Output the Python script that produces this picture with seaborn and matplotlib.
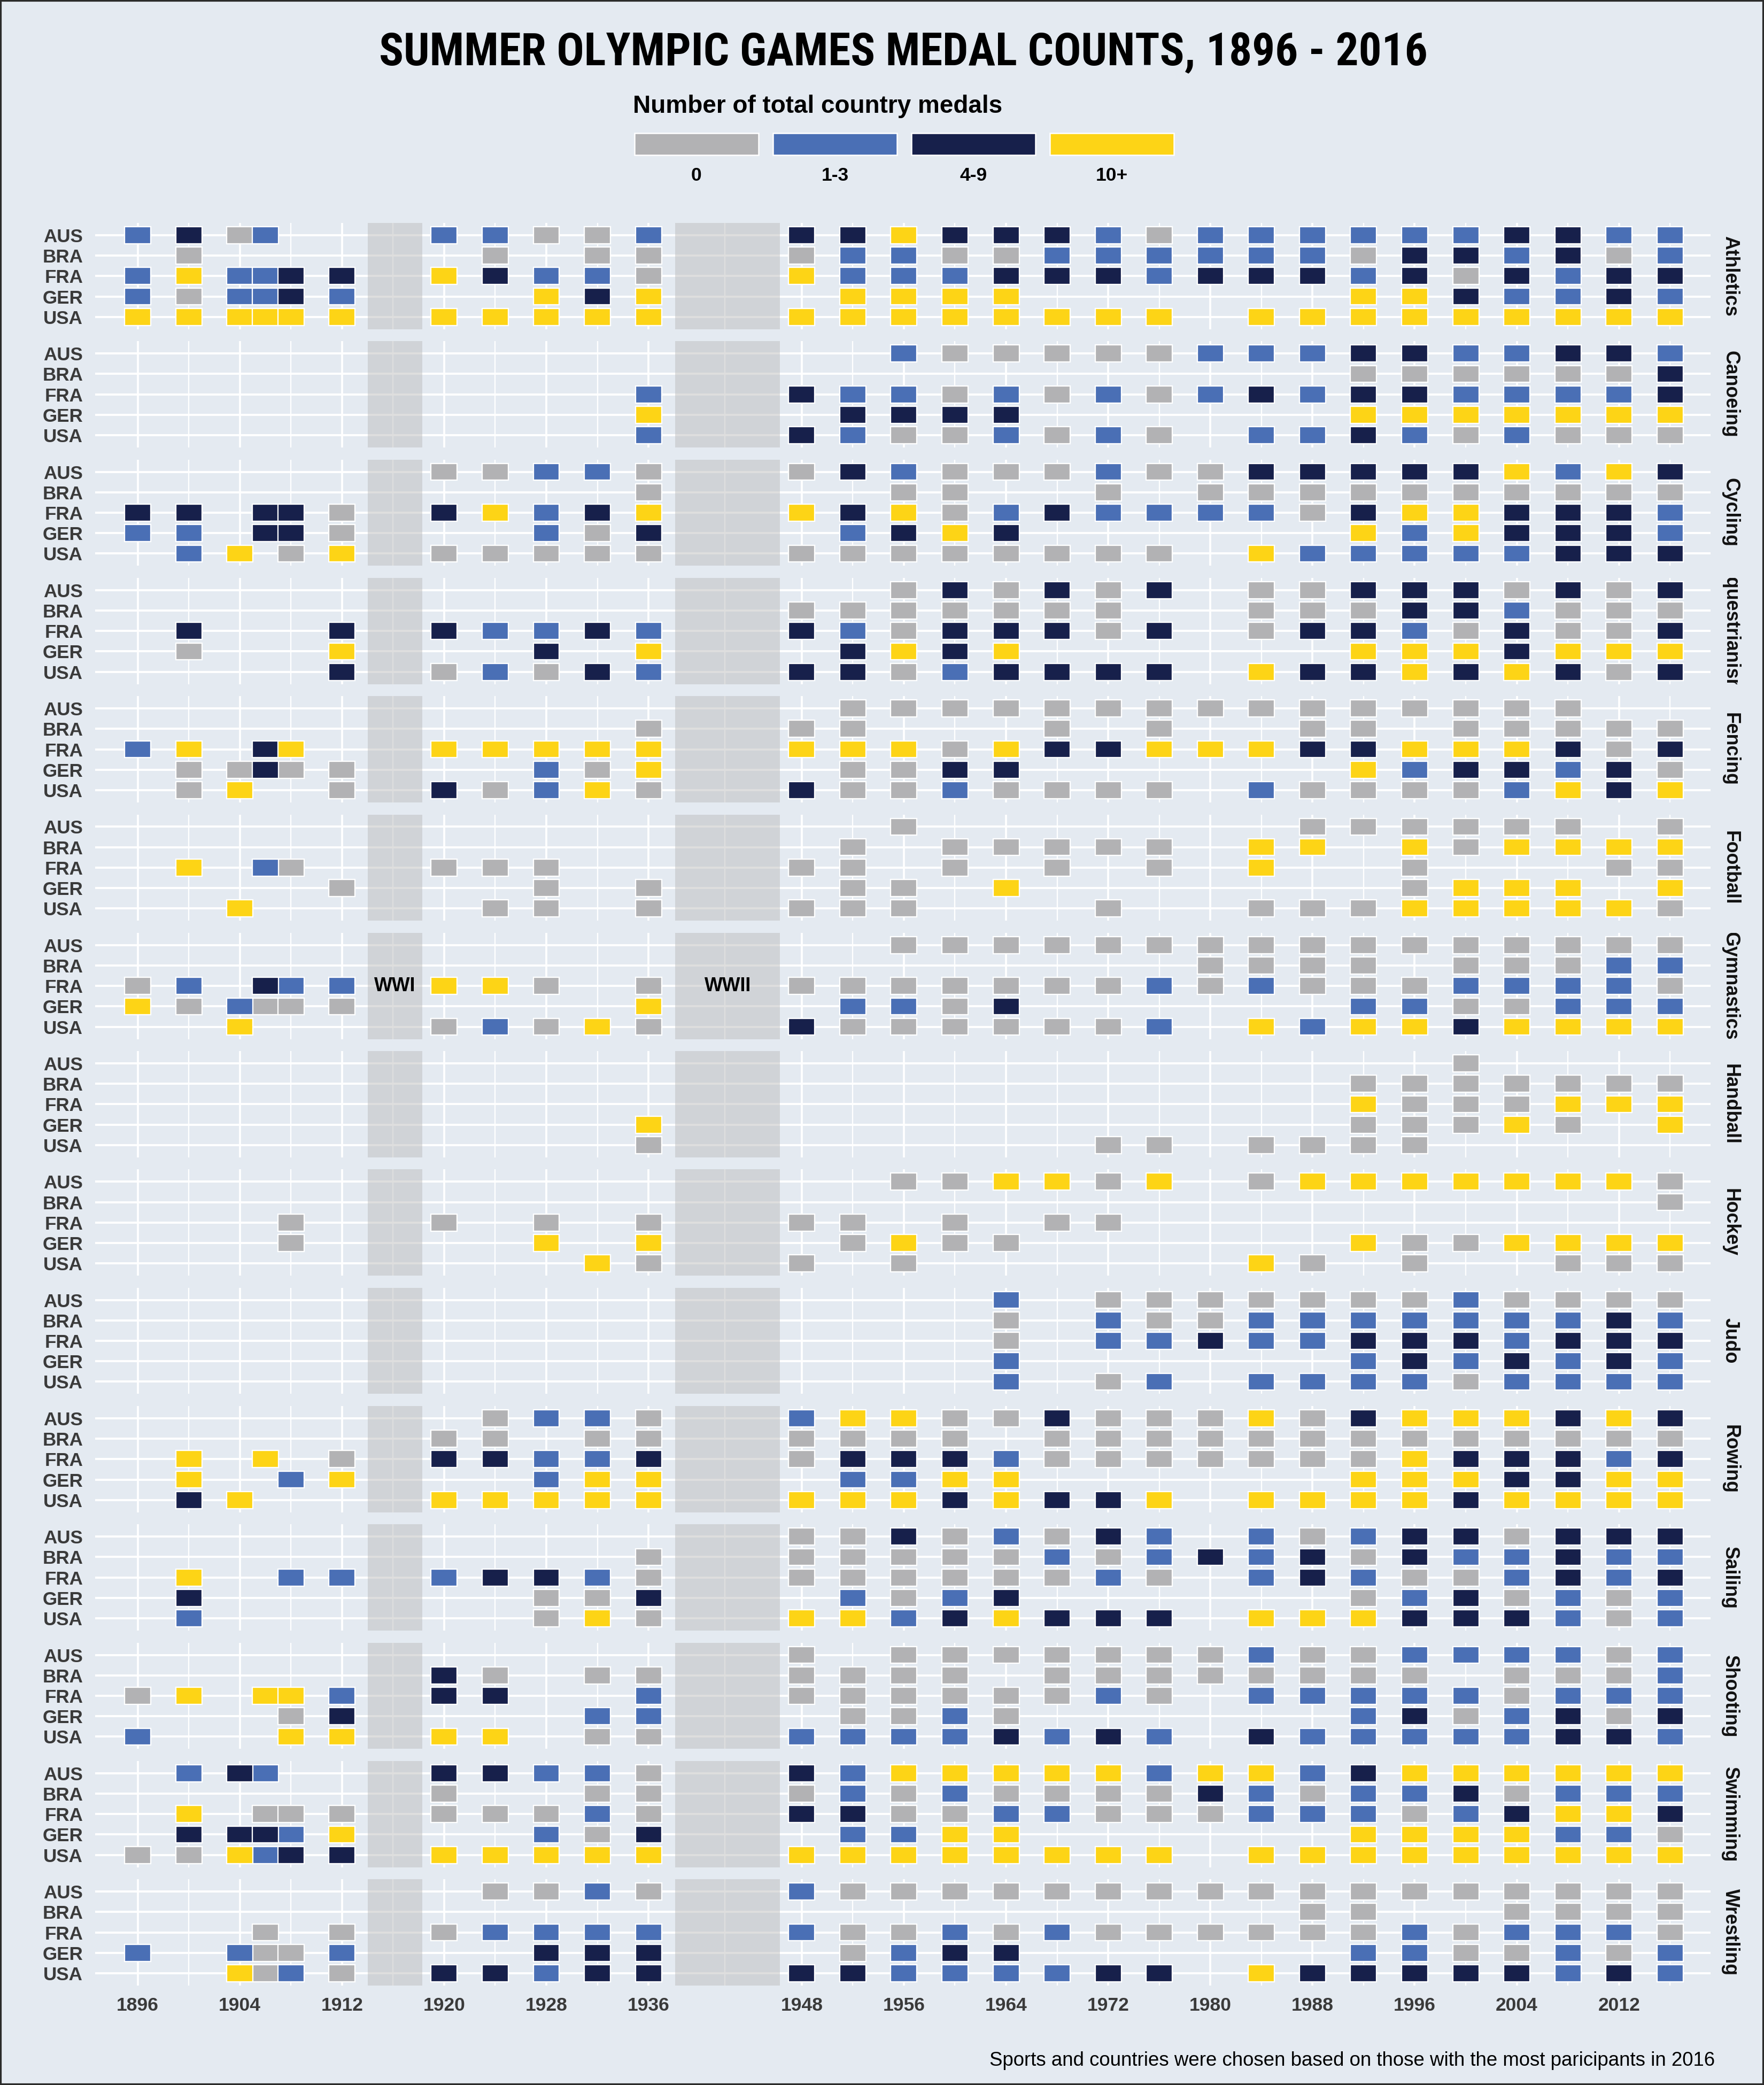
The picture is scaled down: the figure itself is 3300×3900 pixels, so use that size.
import numpy as np
import pandas as pd
import matplotlib
matplotlib.use("Agg")
import matplotlib.pyplot as plt
import seaborn as sns
from matplotlib.patches import Rectangle

# ---------------------------------------------------------------- data
YEARS = [1896, 1900, 1904, 1906, 1908, 1912,
         1920, 1924, 1928, 1932, 1936,
         1948, 1952, 1956, 1960, 1964, 1968, 1972, 1976, 1980,
         1984, 1988, 1992, 1996, 2000, 2004, 2008, 2012, 2016]
COUNTRIES = ["AUS", "BRA", "FRA", "GER", "USA"]
LEVELS = ["0", "1-3", "4-9", "10+"]
LEVEL_CODES = {"G": 0, "B": 1, "N": 2, "Y": 3}   # G=0, B=1-3, N=4-9, Y=10+, '-'=no entry
TICK_YEARS = [1896, 1904, 1912, 1920, 1928, 1936, 1948, 1956, 1964, 1972,
              1980, 1988, 1996, 2004, 2012]
MINOR_YEARS = [1900, 1908, 1916, 1924, 1932, 1942, 1952, 1960, 1968, 1976,
               1984, 1992, 2000, 2008, 2016]
WARS = [("WWI", 1914.0, 1918.3), ("WWII", 1938.1, 1946.3)]

# rows: 1896-1912 | 1920-1936 | 1948-2016
ATHLETICS = {
    "AUS": "BNGB-- BBGGB NNYNNNBGBBBBBBNNBB",
    "BRA": "-G---- -G-GG GBBGGBBBBBBGNNBNGB",
    "FRA": "BYBBNN YNBBG YBBBNNNBNNNBNGNBNN",
    "GER": "BGBBNB --YNY -YYYY------YYNBBNB",
    "USA": "YYYYYY YYYYY YYYYYYYY-YYYYYYYYY",
}
CANOEING = {
    "AUS": "------ ----- --BGGGGGBBBNNBBNNB",
    "BRA": "------ ----- -----------GGGGGGN",
    "FRA": "------ ----B NBBGBGBGBNBNNBBBBN",
    "GER": "------ ----Y -NNNN------YYYYYYY",
    "USA": "------ ----B NBGGBGBG-BBNBGBGGG",
}
CYCLING = {
    "AUS": "------ GGBBG GNBGGGBGGNNNNNYBYN",
    "BRA": "------ ----G --GG--G-GGGGGGGGGG",
    "FRA": "NN-NNG NYBNY YNYGBNBBBBGNYYNNNB",
    "GER": "BB-NNG --BGN -BNYN------YBYNNNB",
    "USA": "-BY-GY GGGGG GGGGGGGG-YBBBBBNNN",
}
EQUESTRIANISM = {
    "AUS": "------ ----- --GNGNGN-GGNNNGNGN",
    "BRA": "------ ----- GGGGGGG--GGGNNBGGG",
    "FRA": "-N---N NBBNB NBGNNNGN-GNNBGNGGN",
    "GER": "-G---Y --N-Y -NYNY------YYYNYYY",
    "USA": "-----N GBGNB NNGBNNNN-YNNYNYNGN",
}
FENCING = {
    "AUS": "------ ----- -GGGGGGGGGGGGGGG--",
    "BRA": "------ ----G GG---G-G--GG-GGGGG",
    "FRA": "BY-NY- YYYYY YYYGYNNYYYNNYYYNGN",
    "GER": "-GGNGG --BGY -GGNN------YBNNBNG",
    "USA": "-GY--G NGBYG NGGBGGGG-BGGGGBYNY",
}
FOOTBALL = {
    "AUS": "------ ----- --G-------GGGGGG-G",
    "BRA": "------ ----- -G-GGGGG-YY-YGYYYY",
    "FRA": "-Y-BG- GGG-- GG-G-G-G-Y--G---GG",
    "GER": "-----G --G-G -GG-Y-------GYYY-Y",
    "USA": "--Y--- -GG-G GGG---G--GGGYYYYYG",
}
GYMNASTICS = {
    "AUS": "------ ----- --GGGGGGGGGGGGGGGG",
    "BRA": "------ ----- --------GGGG-GGGBB",
    "FRA": "GB-NBB YYG-G GGGGGGGBGBGGGBBBBG",
    "GER": "YGBGGG ----Y -BBGN------BBGGBBB",
    "USA": "--Y--- GBGYG NGGGGGGB-YBYYNYYYY",
}
HANDBALL = {
    "AUS": "------ ----- -------------G----",
    "BRA": "------ ----- -----------GGGGGGG",
    "FRA": "------ ----- -----------YGGGYYY",
    "GER": "------ ----Y -----------GGGYG-Y",
    "USA": "------ ----G ------GG-GGGG-----",
}
HOCKEY = {
    "AUS": "------ ----- --GGYYGY-GYYYYYYYG",
    "BRA": "------ ----- -----------------G",
    "FRA": "----G- G-G-G GG-G-GG-----------",
    "GER": "----G- --Y-Y -GYGG------YGGYYYY",
    "USA": "------ ---YG G-G------YG-G--GGG",
}
JUDO = {
    "AUS": "------ ----- ----B-GGGGGGGBGGGG",
    "BRA": "------ ----- ----G-BGGBBBBBBBNB",
    "FRA": "------ ----- ----G-BBNBBNNNBNNN",
    "GER": "------ ----- ----B------BNBNBNB",
    "USA": "------ ----- ----B-GB-BBBBGBBBB",
}
ROWING = {
    "AUS": "------ -GBBG BYYGGNGGGYGNYYYNYN",
    "BRA": "------ GG-GG GGGG-GGGGGGGGGGGGG",
    "FRA": "-Y-Y-G NNBBN GNNNBGGGGGGGYNNNBN",
    "GER": "-Y--BY --BYY -BBYY------YYYNNYY",
    "USA": "-NY--- YYYYY YYYNYNNY-YYYYNYYYY",
}
SAILING = {
    "AUS": "------ ----- GGNGBGNB-BGBNNGNNN",
    "BRA": "------ ----G GGGGGBGBNBNGNBBNBB",
    "FRA": "-Y--BB BNNBG GGGGGGBG-BNBGGBNBN",
    "GER": "-N---- --GGN -BGBN------GBNGBGB",
    "USA": "-B---- --GYG YYBNYNNN-YYYNNNBGB",
}
SHOOTING = {
    "AUS": "------ ----- G-GGGGGGGBGGBBBBGB",
    "BRA": "------ NG-GG GGGG-GGGGGGGG-GGGB",
    "FRA": "GY-YYB NN--B GGGGGGBG-BBBBBGBBB",
    "GER": "----GN ---BB -GGBG------BNGBNGN",
    "USA": "B---YY YY-GG BBBBNBNB-NBBBBBNNB",
}
SWIMMING = {
    "AUS": "-BNB-- NNBBG NBYYYYYBYYBNYYYYYY",
    "BRA": "------ G--GG GBGBGGGGNBGBBNGBBB",
    "FRA": "-Y-GGG GGGBG NNGGBBGGGBBBGBNYYN",
    "GER": "-NNNBY --BGN -BBYY------YYYYBBG",
    "USA": "GGYBNN YYYYY YYYYYYYY-YYYYYYYYY",
}
WRESTLING = {
    "AUS": "------ -GGBG BGGGGGGGGGGGGGGGGG",
    "BRA": "------ ----- ----------GG--GGGG",
    "FRA": "---G-G GBBBB BGGBGBGGGGGGBGBBBG",
    "GER": "B-BGGB --NNN -GBNN------BBGGBGB",
    "USA": "--YGBG NNBNN NNBBBBNN-YNNNNNBNB",
}
SPORT_DATA = {
    "Athletics": ATHLETICS, "Canoeing": CANOEING, "Cycling": CYCLING,
    "Equestrianism": EQUESTRIANISM, "Fencing": FENCING, "Football": FOOTBALL,
    "Gymnastics": GYMNASTICS, "Handball": HANDBALL, "Hockey": HOCKEY,
    "Judo": JUDO, "Rowing": ROWING, "Sailing": SAILING, "Shooting": SHOOTING,
    "Swimming": SWIMMING, "Wrestling": WRESTLING,
}
TITLE = "SUMMER OLYMPIC GAMES MEDAL COUNTS, 1896 - 2016"
LEGEND_TITLE = "Number of total country medals"
CAPTION = "Sports and countries were chosen based on those with the most paricipants in 2016"

records = []
for sport, rows in SPORT_DATA.items():
    for country, s in rows.items():
        codes = s.replace(" ", "")
        assert len(codes) == len(YEARS), (sport, country, len(codes))
        for yr, ch in zip(YEARS, codes):
            if ch != "-":
                records.append((sport, country, COUNTRIES.index(country), yr, LEVEL_CODES[ch]))
df = pd.DataFrame(records, columns=["sport", "country", "row", "year", "level"])

# ---------------------------------------------------------------- style
BG = "#E4EAF1"
COLORS = ["#B2B2B4", "#4A6FB5", "#17204B", "#FDD416"]
LABEL_COLOR = "#3A3A3A"

sns.set_theme(style="white", rc={"axes.facecolor": BG, "figure.facecolor": BG})
plt.rcParams["font.family"] = ["Liberation Sans", "DejaVu Sans"]

W, H, DPI = 3300, 3900, 300
fig = plt.figure(figsize=(W / DPI, H / DPI), dpi=DPI, facecolor=BG)
renderer = fig.canvas.get_renderer()


def add_axes_px(l, t, r, b):
    return fig.add_axes([l / W, 1 - b / H, (r - l) / W, (b - t) / H])


def fit_width(txt, target):
    for _ in range(4):
        w = txt.get_window_extent(renderer).width
        txt.set_fontsize(txt.get_fontsize() * target / w)


PL, PR = 178, 3200
TOP0, STEP, PH = 417, 221.3, 198.7
TILE_W, TILE_H = 2.05, 0.83

sports = list(SPORT_DATA.keys())
for i, sport in enumerate(sports):
    top = TOP0 + STEP * i
    ax = add_axes_px(PL, top, PR, top + PH)
    ax.set_facecolor(BG)
    ax.set_xlim(1892.67, 2019.17)
    ax.set_ylim(4.6, -0.6)
    ax.set_xticks(TICK_YEARS)
    ax.set_xticks(MINOR_YEARS, minor=True)
    ax.set_yticks(range(len(COUNTRIES)))
    ax.set_yticklabels(COUNTRIES, fontweight="bold", fontsize=8.4, color=LABEL_COLOR)
    ax.grid(which="major", axis="x", color="white", lw=0.9)
    ax.grid(which="minor", axis="x", color="white", lw=0.55)
    ax.grid(which="major", axis="y", color="white", lw=0.95)
    ax.set_axisbelow(True)
    for s in ax.spines.values():
        s.set_visible(False)
    ax.tick_params(which="both", length=0)
    ax.tick_params(axis="y", pad=5.5)
    last = i == len(sports) - 1
    if last:
        ax.set_xticklabels([str(y) for y in TICK_YEARS], fontweight="bold",
                           fontsize=8.5, color=LABEL_COLOR)
        ax.tick_params(axis="x", pad=5)
    else:
        ax.tick_params(axis="x", labelbottom=False)

    for name, x0, x1 in WARS:
        ax.axvspan(x0, x1, color="#BEBEBE", alpha=0.5, lw=0, zorder=1)

    d = df[df.sport == sport]
    for lvl in range(len(LEVELS)):
        sub = d[d.level == lvl]
        ax.bar(sub.year, TILE_H, width=TILE_W, bottom=sub.row - TILE_H / 2,
               color=COLORS[lvl], edgecolor="white", linewidth=0.55, zorder=3)

    if sport == "Gymnastics":
        for name, x0, x1 in WARS:
            ax.text((x0 + x1) / 2, COUNTRIES.index("FRA"), name, ha="center", va="center",
                    fontweight="bold", fontsize=8.6, color="black", zorder=4)

    # strip on the right (clipped to the panel height like the original)
    sax = add_axes_px(PR, top, PR + 90, top + PH)
    sax.set_axis_off()
    sax.text(37 / 90, 0.5, sport, rotation=270, ha="center", va="center",
             fontweight="bold", fontsize=8.6, color="#111111",
             clip_on=True, transform=sax.transAxes)

# ---------------------------------------------------------------- title
t = fig.text(1690 / W, 1 - 99 / H, TITLE, ha="center", va="center",
             family=["Liberation Sans Narrow", "Roboto Condensed", "DejaVu Sans Condensed",
                     "Liberation Sans", "DejaVu Sans"],
             fontweight="bold", fontsize=30, color="black")
fit_width(t, 1960)

# ---------------------------------------------------------------- legend
fig.text(1184 / W, 1 - 199 / H, LEGEND_TITLE, ha="left", va="center",
         fontweight="bold", fontsize=11, color="black")
KEY_L, KEY_PITCH, KEY_W = 1187, 259, 232
lax = add_axes_px(KEY_L, 248.5, KEY_L + 3 * KEY_PITCH + KEY_W, 289.5)
lax.set_axis_off()
kw = KEY_W / KEY_PITCH
lax.set_xlim(-kw / 2, 3 + kw / 2)
lax.set_ylim(0, 1)
bars = lax.bar(range(len(LEVELS)), 1, width=kw, bottom=0, color=COLORS,
               edgecolor="white", linewidth=0.6)
for b in bars:
    b.set_clip_on(False)
for k, lab in enumerate(LEVELS):
    cx = KEY_L + KEY_W / 2 + k * KEY_PITCH
    fig.text(cx / W, 1 - 328 / H, lab, ha="center", va="center",
             fontweight="bold", fontsize=8.5, color="black")

# ---------------------------------------------------------------- caption
c = fig.text(3208 / W, 1 - 3855 / H, CAPTION, ha="right", va="center",
             fontsize=9, color="black")
fit_width(c, 1358)

# frame
fig.add_artist(Rectangle((0, 0), 1, 1, transform=fig.transFigure, fill=False,
                         edgecolor="#2B2B2B", lw=1.5))

fig.savefig("out.png", dpi=DPI, facecolor=BG)
